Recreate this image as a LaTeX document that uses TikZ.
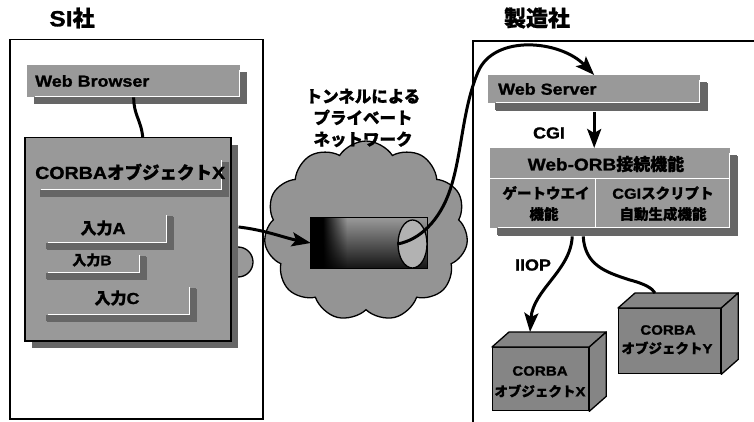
\documentclass[tikz,border=0pt]{standalone}
\usepackage{fontspec}
\setmainfont{Liberation Sans}[FakeStretch=1.12, BoldFeatures={FakeBold=1.2}]
\newfontfamily\jp{Noto Sans CJK JP}[BoldFeatures={FakeBold=1.0}]
\usetikzlibrary{shapes.symbols,shapes.geometric,shadows,arrows.meta,calc,fadings}

\definecolor{boxgray}{gray}{0.60}
\definecolor{shadegray}{gray}{0.40}
\definecolor{cloudgray}{gray}{0.58}
\definecolor{cubegray}{gray}{0.52}

\tikzset{
  conn/.style={line width=3pt},
  tip/.style={-{Stealth[length=19pt,width=14pt,inset=4pt]}},
  panelbox/.style={draw, line width=1.5pt, inner sep=0pt, anchor=north west},
  bar/.style={fill=boxgray, inner sep=0pt, anchor=north west,
    copy shadow={shadow xshift=7pt, shadow yshift=-7pt, fill=shadegray, draw=none},
    path picture={\draw[white, line width=0.9pt]
      ([xshift=8pt,yshift=0.6pt]path picture bounding box.south west) --
      ([xshift=-0.6pt,yshift=0.6pt]path picture bounding box.south east) --
      ([xshift=-0.6pt,yshift=-5pt]path picture bounding box.north east);}},
  txt/.style={inner sep=0pt, font=\bfseries\fontsize{16}{18}\selectfont},
  bigtxt/.style={inner sep=0pt, font=\bfseries\fontsize{17.5}{20}\selectfont},
  midtxt/.style={inner sep=0pt, font=\bfseries\fontsize{14}{16}\selectfont},
  smalltxt/.style={inner sep=0pt, font=\bfseries\fontsize{13.5}{15}\selectfont},
  title/.style={inner sep=0pt, font=\bfseries\fontsize{22}{24}\selectfont},
  cubefront/.style={draw, line width=1.3pt, fill=cubegray, inner sep=0pt, anchor=north west},
  cubeface/.style={draw, line width=1.3pt, fill=cubegray, line join=round},
}

\begin{document}
\begin{tikzpicture}[x=1pt, y=-1pt]
\useasboundingbox (0,0) rectangle (754,422);

% ---------- SI side ----------
\node[title] (sititle) at (72,18) {SI{\jp 社}};
\node[panelbox, minimum width=253pt, minimum height=379pt] (sipanel) at (9,39) {};

\node[bar, minimum width=213pt, minimum height=32pt] (wb) at (27,65) {};
\node[txt, anchor=west] (wbt) at (35,81) {Web Browser};

% side connector bump behind the object box
\node[circle, draw, line width=1.3pt, fill=boxgray, minimum size=30pt, inner sep=0pt] (bump) at (238,262) {};

\node[bar, draw, line width=1.5pt, minimum width=206pt, minimum height=203pt] (cx) at (24,137) {};
\node[bar, minimum width=189pt, minimum height=35pt] (cxbar) at (33,155) {};
\node[bigtxt, anchor=west] (cxt) at (35,172) {CORBA{\jp オブジェクト}X};

\node[bar, minimum width=127pt, minimum height=33pt, copy shadow={shadow xshift=6pt, shadow yshift=-6pt, fill=shadegray, draw=none}] (ina) at (40,210) {};
\node[txt] (inat) at (103,228) {{\jp 入力}A};
\node[bar, minimum width=100pt, minimum height=23pt, copy shadow={shadow xshift=6pt, shadow yshift=-6pt, fill=shadegray, draw=none}] (inb) at (40,250) {};
\node[txt, font=\bfseries\fontsize{14}{15}\selectfont] (inbt) at (92,260) {{\jp 入力}B};
\node[bar, minimum width=150pt, minimum height=33pt, copy shadow={shadow xshift=6pt, shadow yshift=-6pt, fill=shadegray, draw=none}] (inc) at (40,282) {};
\node[txt] (inct) at (117,298) {{\jp 入力}C};

\draw[conn] (wb.south) .. controls +(0,18) and +(-2,-18) .. ([xshift=15pt]cx.north);

% ---------- private network ----------
\node[cloud, cloud puffs=11, cloud puff arc=115, aspect=1.2, draw, line width=1.3pt,
      fill=cloudgray, minimum width=204pt, minimum height=180pt] (net) at (366,231) {};
\node[inner sep=0pt, align=center, font=\jp\bfseries\fontsize{16.5}{21.5}\selectfont]
      (netlbl) at (363,118) {トンネルによる\\プライベート\\ネットワーク};

\node[minimum width=116pt, minimum height=50pt, inner sep=0pt] (tun) at (369,243) {};
\shade[top color=black!40, bottom color=black!92] (tun.north west) rectangle (tun.south east);
\fill[black] (tun.north west) rectangle ($(tun.south west)+(12,0)$);
\fill[black, path fading=east] ($(tun.north west)+(12,0)$) rectangle ($(tun.south west)+(36,0)$);
\draw[line width=1.3pt] (tun.north west) rectangle (tun.south east);
\node[ellipse, draw, line width=1.3pt, fill=black!30, minimum width=29pt, minimum height=48pt, inner sep=0pt] (tend) at (412.5,244) {};

\draw[conn, tip] ($(cx.north east)!0.44!(cx.south east)+(7,0)$)
      .. controls (265,230) and (285,238) .. (tun.west);

% ---------- manufacturer side ----------
\node[title] (mftitle) at (537,18) {\jp 製造社};
\draw[line width=1.5pt] (473,422) -- (473,41) -- (754,41);

\node[bar, minimum width=212pt, minimum height=28pt, copy shadow={shadow xshift=8pt, shadow yshift=-8pt, fill=shadegray, draw=none}] (ws) at (488,75) {};
\node[txt, anchor=west] (wst) at (498,89) {Web Server};

\node[txt] (cgi) at (549,133) {CGI};

\node[bar, minimum width=240pt, minimum height=80pt, copy shadow={shadow xshift=8pt, shadow yshift=-8pt, fill=shadegray, draw=none}] (orb) at (490,148) {};
\draw[white, line width=0.8pt] ($(orb.north west)+(0,30)$) -- ($(orb.north east)+(0,30)$);
\draw[white, line width=0.8pt] ($(orb.north west)+(105,30)$) -- ($(orb.south west)+(105,0)$);
\node[txt, font=\bfseries\fontsize{17}{18}\selectfont] (orbt) at (606,164) {Web-ORB{\jp 接続機能}};
\node[midtxt, font=\jp\bfseries\fontsize{14.5}{16}\selectfont] (gw1) at (546,193) {ゲートウエイ};
\node[midtxt, font=\jp\bfseries\fontsize{14.5}{16}\selectfont] (gw2) at (544,214) {機能};
\node[midtxt, font=\bfseries\fontsize{14.5}{16}\selectfont] (cs1) at (663,193) {CGI{\jp スクリプト}};
\node[midtxt, font=\jp\bfseries\fontsize{14.5}{16}\selectfont] (cs2) at (663,214) {自動生成機能};

\node[txt] (iiop) at (533,265) {IIOP};

% CORBA object boxes
\node[cubefront, minimum width=96pt, minimum height=63pt] (cubex) at (492,347) {};
\draw[cubeface] (cubex.north west) -- ++(17,-15) -- ($(cubex.north east)+(17,-15)$) -- (cubex.north east) -- cycle;
\draw[cubeface] (cubex.north east) -- ++(17,-15) -- ($(cubex.south east)+(17,-15)$) -- (cubex.south east) -- cycle;
\node[smalltxt] (cxa) at (540,371) {CORBA};
\node[smalltxt] (cxb) at (540,391) {{\jp オブジェクト}X};

\node[cubefront, minimum width=102pt, minimum height=65pt] (cubey) at (618,308) {};
\draw[cubeface] (cubey.north west) -- ++(17,-15) -- ($(cubey.north east)+(17,-15)$) -- (cubey.north east) -- cycle;
\draw[cubeface] (cubey.north east) -- ++(17,-15) -- ($(cubey.south east)+(17,-15)$) -- (cubey.south east) -- cycle;
\node[smalltxt] (cya) at (668,330) {CORBA};
\node[smalltxt] (cyb) at (667,348) {{\jp オブジェクト}Y};

% connectors
\draw[conn, tip] (tend.west) .. controls (420,240) and (440,220) .. (450,190)
      .. controls (462,155) and (462,110) .. (478,72)
      .. controls (494,34) and (560,40) .. (ws.north);
\draw[conn, tip] ([yshift=-9pt]ws.south) -- (ws.south |- orb.north);
\draw[conn, tip] ($(orb.south)+(-38,8)$) .. controls (571,270) and (533,290) .. ($(cubex.north west)+(38,-15)$);
\draw[conn] ($(orb.south)+(-27,8)$) .. controls (585,265) and (605,272) .. (630,280)
      .. controls (645,284) and (652,288) .. ($(cubey.north west)+(37,-15)$);
\end{tikzpicture}
\end{document}
